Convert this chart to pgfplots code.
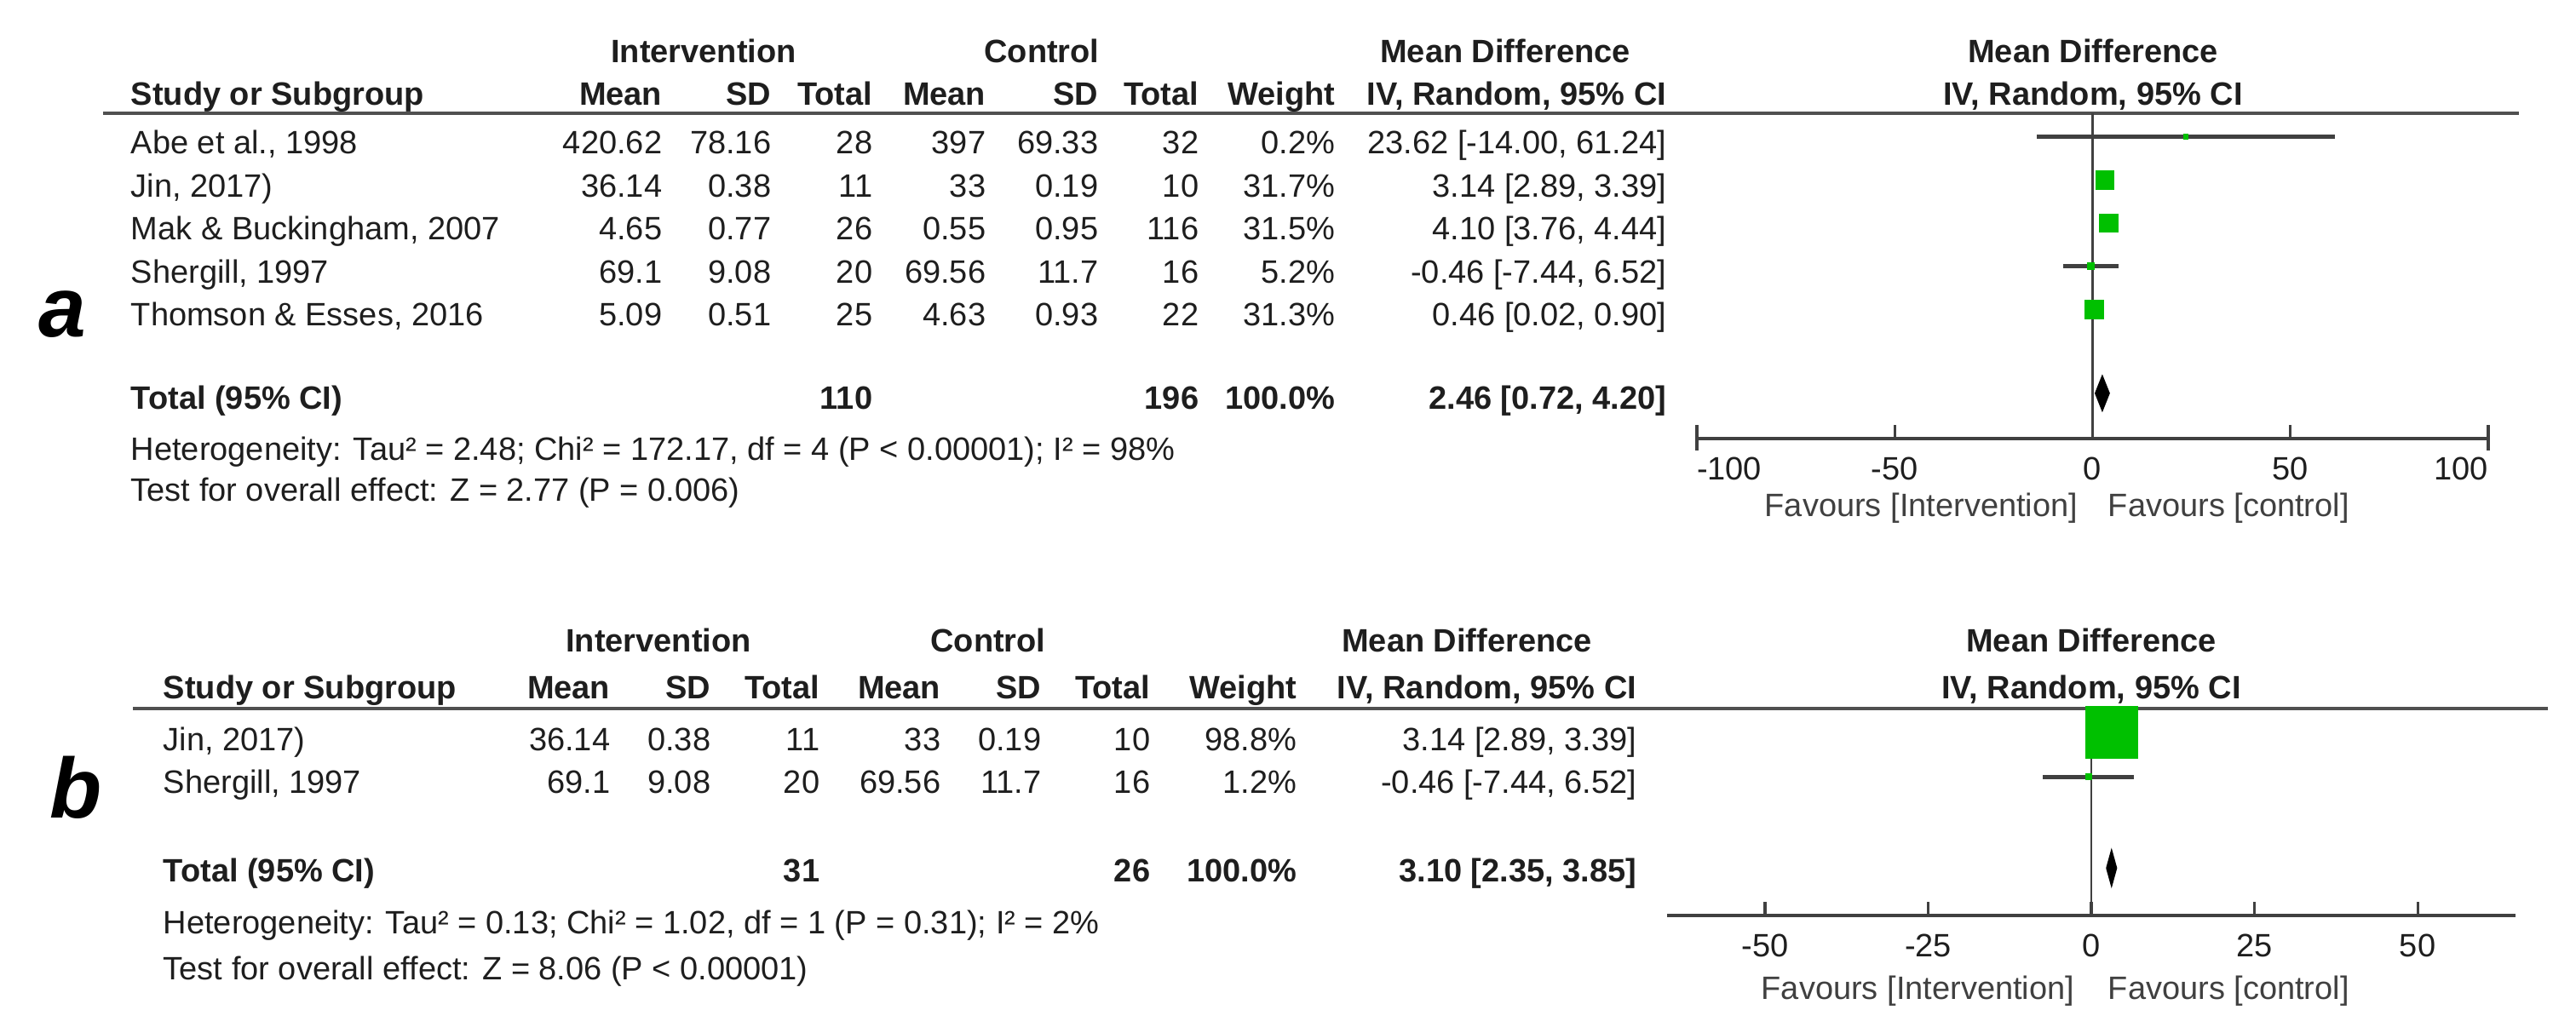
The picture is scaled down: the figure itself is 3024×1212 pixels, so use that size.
\documentclass[border=0pt]{standalone}
\usepackage{pgfplots}
\pgfplotsset{compat=1.18}
\usepackage{fontspec}
\setmainfont{Liberation Sans}
\definecolor{boxgreen}{RGB}{0,192,0}
\definecolor{linegray}{RGB}{64,64,64}
\definecolor{rulegray}{RGB}{80,80,80}
\definecolor{txt}{RGB}{30,30,30}

% one table row, panel a (baseline in \ry)
\newcommand\rowa[9]{%
  \node[lb] at (153,\ry) {#1};
  \node[rb] at (778,\ry) {#2};
  \node[rb] at (906,\ry) {#3};
  \node[rb] at (1025,\ry) {#4};
  \node[rb] at (1158,\ry) {#5};
  \node[rb] at (1290,\ry) {#6};
  \node[rb] at (1408,\ry) {#7};
  \node[rb] at (1568,\ry) {#8};
  \node[rb] at (1957,\ry) {#9};}
% one table row, panel b
\newcommand\rowb[9]{%
  \node[lb] at (191,\ry) {#1};
  \node[rb] at (717,\ry) {#2};
  \node[rb] at (835,\ry) {#3};
  \node[rb] at (963,\ry) {#4};
  \node[rb] at (1105,\ry) {#5};
  \node[rb] at (1223,\ry) {#6};
  \node[rb] at (1351,\ry) {#7};
  \node[rb] at (1523,\ry) {#8};
  \node[rb] at (1922,\ry) {#9};}

\pgfplotsset{forest/.style={
  scale only axis, clip=false,
  axis x line*=bottom, axis y line=none,
  axis line style={-, linegray, line width=1.1pt},
  tick align=inside, major tick length=4pt,
  tick style={linegray, line width=0.8pt},
  xticklabel style={text=txt, font=\fontsize{9.5}{11}\selectfont},
  xticklabel shift=2pt,
}}

\begin{document}
\fontsize{9.5}{11}\selectfont
\begin{tikzpicture}[x=0.25pt, y=-0.25pt,
  lb/.style={anchor=base west, inner sep=0pt, text=txt},
  rb/.style={anchor=base east, inner sep=0pt, text=txt},
  cb/.style={anchor=base, inner sep=0pt, text=txt},
  hd/.style={font=\bfseries}]
\useasboundingbox (0,0) rectangle (3024,1212);

%% ---------------- panel a ----------------
\node[anchor=base west, inner sep=0pt, font=\fontsize{25}{25}\bfseries\itshape] at (45,395) {a};

\node[cb,hd] at (826,73.5) {Intervention};
\node[cb,hd] at (1223,73.5) {Control};
\node[cb,hd] at (1767,73.5) {Mean Difference};
\node[cb,hd] at (2457,73.5) {Mean Difference};
\node[cb,hd] at (2457,123.5) {IV, Random, 95\% CI};
\def\ry{123.5}
\begin{scope}[every node/.append style={font=\bfseries}]
\rowa{Study or Subgroup}{Mean}{SD}{Total}{Mean}{SD}{Total}{Weight}{IV, Random, 95\% CI}
\end{scope}
\draw[rulegray, line width=1.1pt] (121,133) -- (2957,133);

\def\ry{180.5}\rowa{Abe et al., 1998}{420.62}{78.16}{28}{397}{69.33}{32}{0.2\%}{23.62 [-14.00, 61.24]}
\def\ry{231}\rowa{Jin, 2017)}{36.14}{0.38}{11}{33}{0.19}{10}{31.7\%}{3.14 [2.89, 3.39]}
\def\ry{281.5}\rowa{Mak \& Buckingham, 2007}{4.65}{0.77}{26}{0.55}{0.95}{116}{31.5\%}{4.10 [3.76, 4.44]}
\def\ry{332}\rowa{Shergill, 1997}{69.1}{9.08}{20}{69.56}{11.7}{16}{5.2\%}{-0.46 [-7.44, 6.52]}
\def\ry{382.5}\rowa{Thomson \& Esses, 2016}{5.09}{0.51}{25}{4.63}{0.93}{22}{31.3\%}{0.46 [0.02, 0.90]}
\def\ry{480.5}
\begin{scope}[every node/.append style={font=\bfseries}]
\rowa{Total (95\% CI)}{}{}{110}{}{}{196}{100.0\%}{2.46 [0.72, 4.20]}
\end{scope}
\node[lb] at (153,540.5) {Heterogeneity: Tau² = 2.48; Chi² = 172.17, df = 4 (P < 0.00001); I² = 98\%};
\node[lb] at (153,588.5) {Test for overall effect: Z = 2.77 (P = 0.006)};
\node[rb, text=linegray] at (2440,606.5) {Favours [Intervention]};
\node[lb, text=linegray] at (2474,606.5) {Favours [control]};

\begin{axis}[forest, at={(498pt,-128.75pt)}, anchor=south west,
  width=232.25pt, height=95.5pt,
  xmin=-100, xmax=100, ymin=-7.99, ymax=-0.454,
  xtick={-100,-50,0,50,100}, xticklabels={\rlap{-100},-50,0,50,\llap{100}},
  extra x ticks={-100,100}, extra x tick labels={},
  extra x tick style={tick align=center, major tick length=7pt}]
\addplot[linegray, line width=0.7pt] coordinates {(0,-0.454)(0,-7.99)};
% 95% CI lines
\addplot[linegray, line width=1.2pt] coordinates {(-14.00,-1)(61.24,-1)};
\addplot[linegray, line width=1.2pt] coordinates {(2.89,-2)(3.39,-2)};
\addplot[linegray, line width=1.2pt] coordinates {(3.76,-3)(4.44,-3)};
\addplot[linegray, line width=1.2pt] coordinates {(-7.44,-4)(6.52,-4)};
\addplot[linegray, line width=1.2pt] coordinates {(0.02,-5)(0.90,-5)};
% study weights
\addplot[only marks, mark=square*, boxgreen, mark size=0.6pt] coordinates {(23.62,-1)};
\addplot[only marks, mark=square*, boxgreen, mark size=2.6pt] coordinates {(3.14,-2)};
\addplot[only marks, mark=square*, boxgreen, mark size=2.6pt] coordinates {(4.10,-3)};
\addplot[only marks, mark=square*, boxgreen, mark size=0.9pt] coordinates {(-0.46,-4)};
\addplot[only marks, mark=square*, boxgreen, mark size=2.6pt] coordinates {(0.46,-5)};
% pooled estimate
\addplot[fill=black, draw=black, line width=0.4pt] coordinates {(0.72,-6.94)(2.46,-6.54)(4.20,-6.94)(2.46,-7.34)(0.72,-6.94)};
\end{axis}

%% ---------------- panel b ----------------
\node[anchor=base west, inner sep=0pt, font=\fontsize{25}{25}\bfseries\itshape] at (58,960) {b};

\node[cb,hd] at (773,765.5) {Intervention};
\node[cb,hd] at (1160,765.5) {Control};
\node[cb,hd] at (1722,765.5) {Mean Difference};
\node[cb,hd] at (2455,765.5) {Mean Difference};
\node[cb,hd] at (2455,820.5) {IV, Random, 95\% CI};
\def\ry{820.5}
\begin{scope}[every node/.append style={font=\bfseries}]
\rowb{Study or Subgroup}{Mean}{SD}{Total}{Mean}{SD}{Total}{Weight}{IV, Random, 95\% CI}
\end{scope}
\draw[rulegray, line width=1.1pt] (156,832) -- (2991,832);

\def\ry{881.5}\rowb{Jin, 2017)}{36.14}{0.38}{11}{33}{0.19}{10}{98.8\%}{3.14 [2.89, 3.39]}
\def\ry{931.5}\rowb{Shergill, 1997}{69.1}{9.08}{20}{69.56}{11.7}{16}{1.2\%}{-0.46 [-7.44, 6.52]}
\def\ry{1035.5}
\begin{scope}[every node/.append style={font=\bfseries}]
\rowb{Total (95\% CI)}{}{}{31}{}{}{26}{100.0\%}{3.10 [2.35, 3.85]}
\end{scope}
\node[lb] at (191,1096.5) {Heterogeneity: Tau² = 0.13; Chi² = 1.02, df = 1 (P = 0.31); I² = 2\%};
\node[lb] at (191,1150.5) {Test for overall effect: Z = 8.06 (P < 0.00001)};
\node[rb, text=linegray] at (2436,1173.5) {Favours [Intervention]};
\node[lb, text=linegray] at (2474,1173.5) {Favours [control]};

\begin{axis}[forest, at={(489.25pt,-268.75pt)}, anchor=south west,
  width=249pt, height=60.75pt,
  xmin=-65, xmax=65, ymin=-5.13, ymax=-0.46,
  xtick={-50,-25,0,25,50}, xticklabels={-50,-25,0,25,50}]
\addplot[linegray, line width=0.7pt] coordinates {(0,-0.46)(0,-5.13)};
\addplot[linegray, line width=1.2pt] coordinates {(2.89,-1)(3.39,-1)};
\addplot[linegray, line width=1.2pt] coordinates {(-7.44,-2)(6.52,-2)};
\addplot[only marks, mark=square*, boxgreen, mark size=7.5pt] coordinates {(3.14,-1)};
\addplot[only marks, mark=square*, boxgreen, mark size=0.8pt] coordinates {(-0.46,-2)};
\addplot[fill=black, draw=black, line width=0.4pt] coordinates {(2.35,-4.06)(3.10,-3.66)(3.85,-4.06)(3.10,-4.46)(2.35,-4.06)};
\end{axis}
\end{tikzpicture}
\end{document}
